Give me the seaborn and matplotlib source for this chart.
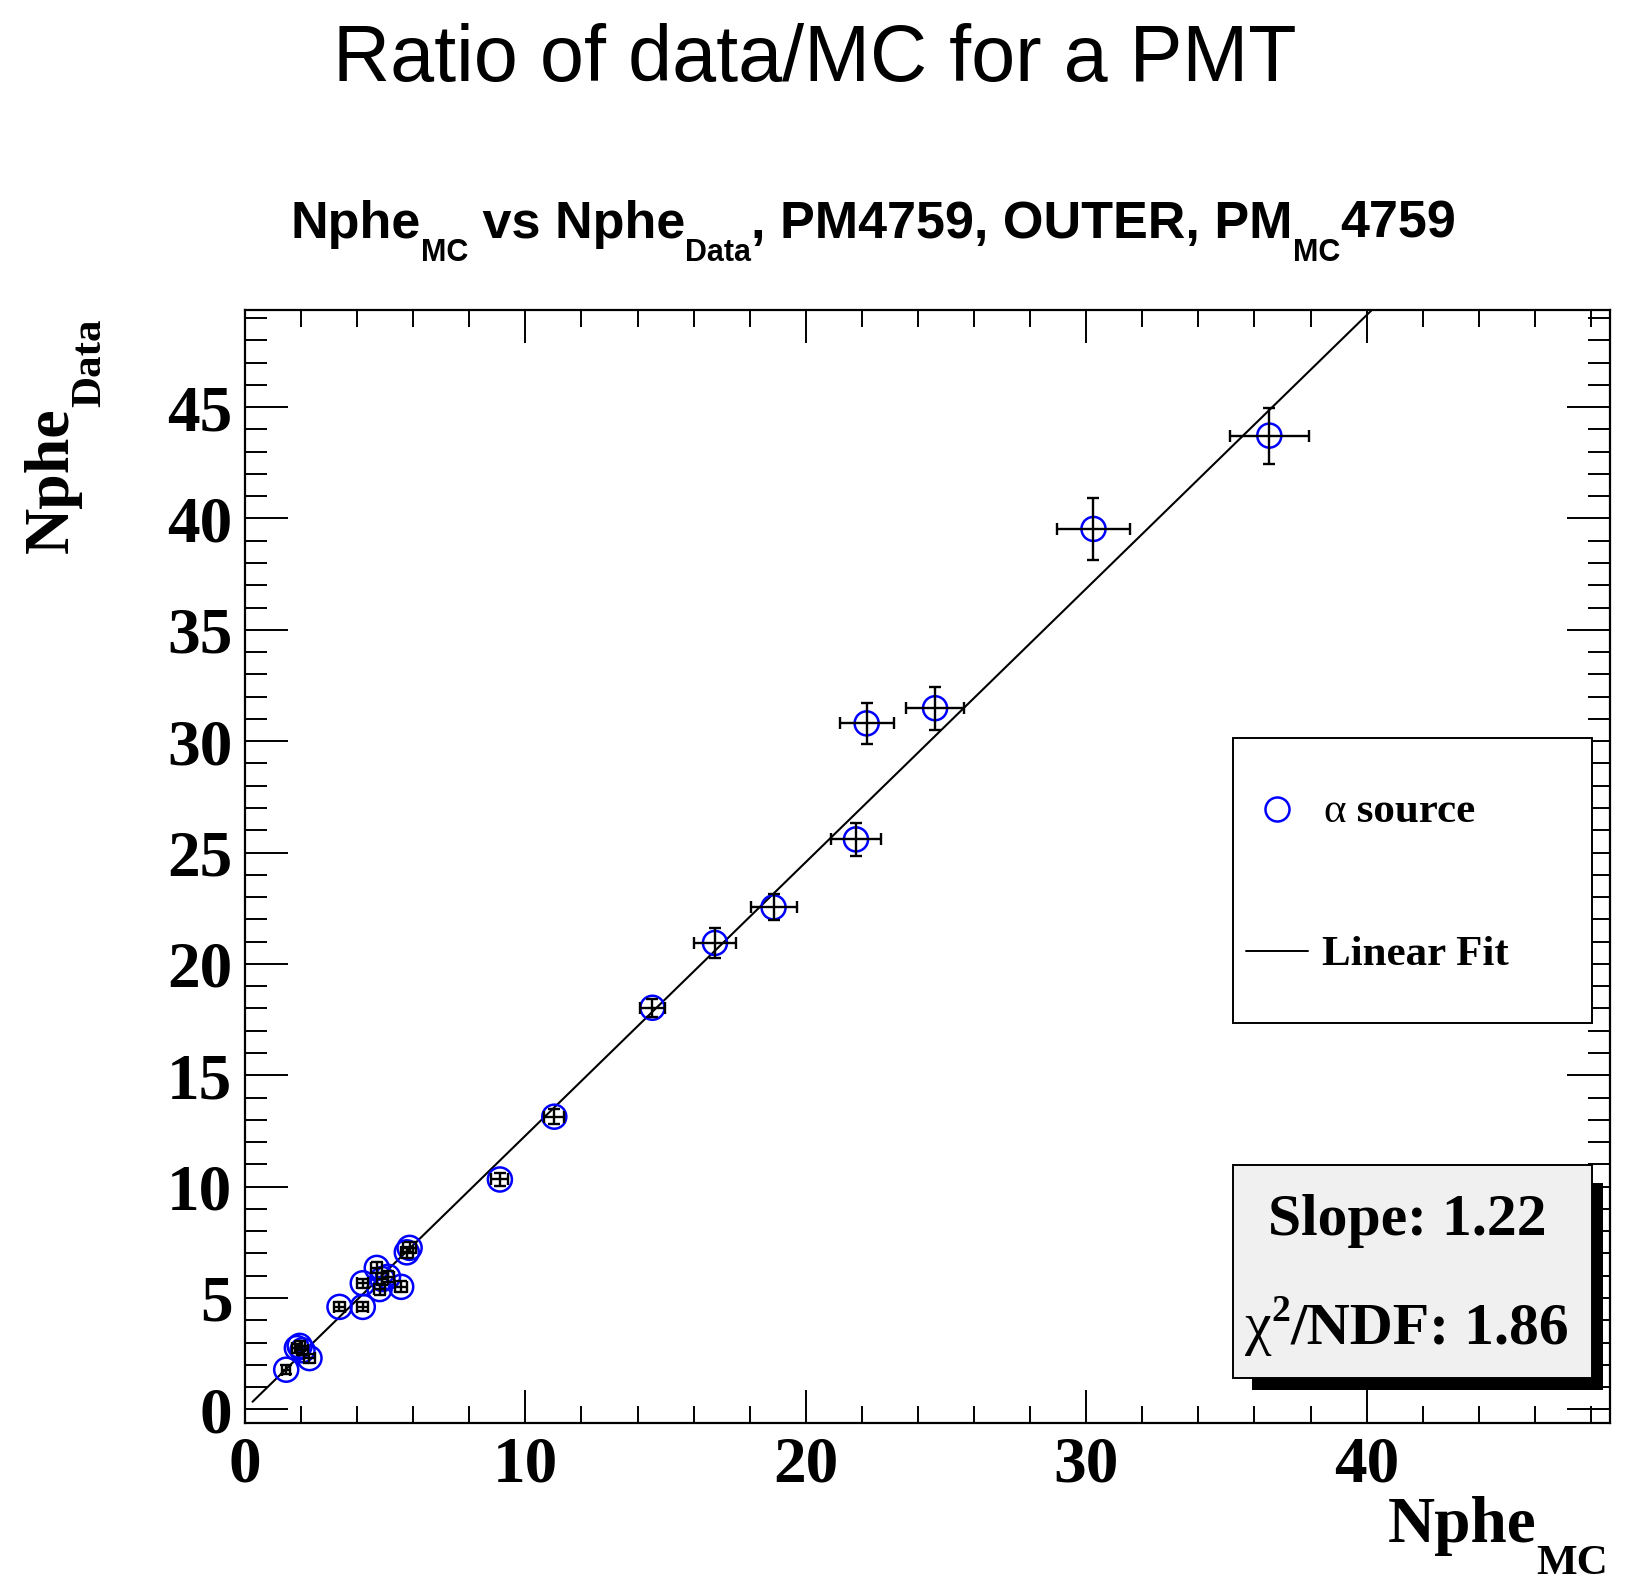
import matplotlib
matplotlib.use("Agg")
import matplotlib.pyplot as plt
import matplotlib.patches as mpatches
from matplotlib.lines import Line2D
from matplotlib.ticker import MultipleLocator
import numpy as np
import seaborn as sns

# ---------------- data ----------------
x_mc = [1.47, 1.85, 1.95, 2.05, 2.30, 3.37, 4.20, 4.20, 4.70, 4.80, 4.90, 5.10,
        5.57, 5.77, 5.87, 9.09, 11.03, 14.53, 16.76, 18.85, 21.79, 22.17, 24.61,
        30.26, 36.53]
y_data = [1.78, 2.75, 2.85, 2.65, 2.30, 4.60, 4.60, 5.66, 6.35, 5.40, 5.85, 5.95,
          5.50, 7.05, 7.25, 10.32, 13.14, 18.03, 20.94, 22.54, 25.59, 30.80, 31.48,
          39.53, 43.72]
x_err = [0.15, 0.18, 0.18, 0.18, 0.18, 0.20, 0.20, 0.20, 0.20, 0.20, 0.20, 0.20,
         0.22, 0.22, 0.22, 0.30, 0.35, 0.45, 0.75, 0.82, 0.89, 0.96, 1.03, 1.31, 1.40]
y_err = [0.20, 0.20, 0.20, 0.20, 0.20, 0.20, 0.20, 0.20, 0.25, 0.25, 0.25, 0.25,
         0.25, 0.25, 0.25, 0.30, 0.35, 0.40, 0.68, 0.59, 0.73, 0.91, 0.96, 1.38, 1.26]

fit_slope = 1.228
fit_intercept = 0.01
fit_range = [0.27, 41.0]

x_ticks = [0, 10, 20, 30, 40]
y_ticks = [0, 5, 10, 15, 20, 25, 30, 35, 40, 45]

title_text = "Ratio of data/MC for a PMT"
slope_label = "Slope: 1.22"
chi2_value = "/NDF: 1.86"

# ---------------- style ----------------
sns.set_style("white")
SERIF = "Liberation Serif"
SANS = "Liberation Sans"
plt.rcParams["font.family"] = [SERIF, "DejaVu Serif"]
plt.rcParams["text.color"] = "black"
plt.rcParams["xtick.color"] = "black"
plt.rcParams["ytick.color"] = "black"
plt.rcParams["axes.edgecolor"] = "black"

W, H = 1639, 1585
fig = plt.figure(figsize=(W / 100, H / 100), dpi=100)
fig.patch.set_facecolor("white")

ax_l, ax_r, ax_t, ax_b = 245, 1610, 310, 1422.7
ax = fig.add_axes([ax_l / W, 1 - ax_b / H, (ax_r - ax_l) / W, (ax_b - ax_t) / H])

BLUE = "#0000ff"

# fit line
fit_x = np.array(fit_range)
fit_y = fit_slope * fit_x + fit_intercept
sns.lineplot(x=fit_x, y=fit_y, ax=ax, color="black", linewidth=1.5, zorder=2,
             legend=False)

# points
sns.scatterplot(x=x_mc, y=y_data, ax=ax, marker="o", s=300, color="none",
                edgecolor=BLUE, linewidth=1.8, zorder=3, legend=False)
ax.errorbar(x_mc, y_data, xerr=x_err, yerr=y_err, fmt="none", ecolor="black",
            elinewidth=1.7, capsize=4.5, capthick=1.7, zorder=4)

ax.set_xlim(0, 48.68)
ax.set_ylim(-0.6, 49.36)
ax.set_xticks(x_ticks)
ax.set_yticks(y_ticks)
ax.xaxis.set_minor_locator(MultipleLocator(2))
ax.yaxis.set_minor_locator(MultipleLocator(1))
ax.set_xlabel("")
ax.set_ylabel("")
for sp in ax.spines.values():
    sp.set_visible(True)
    sp.set_color("black")
    sp.set_linewidth(1.6)

ax.tick_params(axis="x", which="major", direction="in", length=24, width=1.4,
               top=True, bottom=True, pad=9, labelsize=47, labelcolor="black")
ax.tick_params(axis="x", which="minor", direction="in", length=12, width=1.4,
               top=True, bottom=True)
ax.tick_params(axis="y", which="major", direction="in", length=31, width=1.4,
               left=True, right=True, pad=9, labelsize=47, labelcolor="black")
ax.tick_params(axis="y", which="minor", direction="in", length=16, width=1.4,
               left=True, right=True)
for lab in ax.get_xticklabels() + ax.get_yticklabels():
    lab.set_fontfamily(SERIF)
    lab.set_fontweight("bold")

# ---------------- text helpers ----------------
fig.canvas.draw()
renderer = fig.canvas.get_renderer()


def seq_text(x0, y0, segs, rotation=0, align="left"):
    """segs: list of (text, size, baseline_drop_px, kwargs). Coordinates in px from top-left."""
    items = []
    adv = 0.0
    for s, size, dy, kw in segs:
        if rotation == 0:
            px, py = x0 + adv, y0 + dy
        else:
            px, py = x0 + dy, y0 - adv
        t = fig.text(px / W, 1 - py / H, s, fontsize=size, rotation=rotation,
                     rotation_mode="anchor", ha="left", va="baseline",
                     color="black", zorder=10, **kw)
        bb = t.get_window_extent(renderer)
        adv += bb.width if rotation == 0 else bb.height
        items.append(t)
    if align != "left" and rotation == 0:
        shift = adv / 2 if align == "center" else adv
        for t in items:
            x, y = t.get_position()
            t.set_position((x - shift / W, y))
    return items


# main title
fig.text(815 / W, 1 - 81 / H, title_text, ha="center", va="baseline",
         fontsize=57, family=SANS, color="black")

# subtitle
mb = dict(family=SANS, weight="bold")
seq_text(873, 238, [
    ("Nphe", 37.5, 0, mb), ("MC", 22, 23, mb),
    (" vs Nphe", 37.5, 0, mb), ("Data", 22, 23, mb),
    (", PM4759, OUTER, PM", 37.5, 0, mb), ("MC", 22, 23, mb),
    ("4759", 37.5, 0, mb)], align="center")

sb = dict(family=SERIF, weight="bold")
# y-axis title
seq_text(68, 553, [("Nphe", 46, 0, sb), ("Data", 31, 32, sb)], rotation=90)
# x-axis title
seq_text(1608, 1542, [("Nphe", 47, 0, sb), ("MC", 31, 32, sb)], align="right")

# ---------------- legend box ----------------
def rect_px(x1, y1, x2, y2, **kw):
    r = mpatches.Rectangle((x1 / W, 1 - y2 / H), (x2 - x1) / W, (y2 - y1) / H,
                           transform=fig.transFigure, figure=fig, **kw)
    fig.add_artist(r)
    return r

rect_px(1233.3, 738.3, 1591.7, 1023.3, facecolor="white", edgecolor="black",
        linewidth=1.4, zorder=5)
fig.add_artist(Line2D([1277.3 / W], [1 - 809.3 / H], marker="o", markersize=17.3,
                      markerfacecolor="none", markeredgecolor=BLUE,
                      markeredgewidth=1.8, linestyle="none",
                      transform=fig.transFigure, zorder=6))
seq_text(1323, 822, [("α", 31, 0, dict(family=SERIF)),
                     (" source", 31, 0, sb)])
fig.add_artist(Line2D([1246 / W, 1308 / W], [1 - 950.7 / H, 1 - 950.7 / H],
                      color="black", linewidth=1.4, transform=fig.transFigure,
                      zorder=6))
seq_text(1322, 965, [("Linear Fit", 31, 0, sb)])

# ---------------- stats box ----------------
rect_px(1251.7, 1183.3, 1603.3, 1390, facecolor="black", edgecolor="none",
        zorder=5)
rect_px(1233.3, 1165, 1591.7, 1378.3, facecolor="#f0f0f0", edgecolor="black",
        linewidth=1.4, zorder=5.5)
seq_text(1407, 1235, [(slope_label, 43, 0, sb)], align="center")
seq_text(1407, 1343, [("χ", 43, 0, dict(family=SERIF)),
                      ("2", 27, -22, sb),
                      (chi2_value, 43, 0, sb)], align="center")

fig.savefig("out.png", dpi=100, facecolor="white")
